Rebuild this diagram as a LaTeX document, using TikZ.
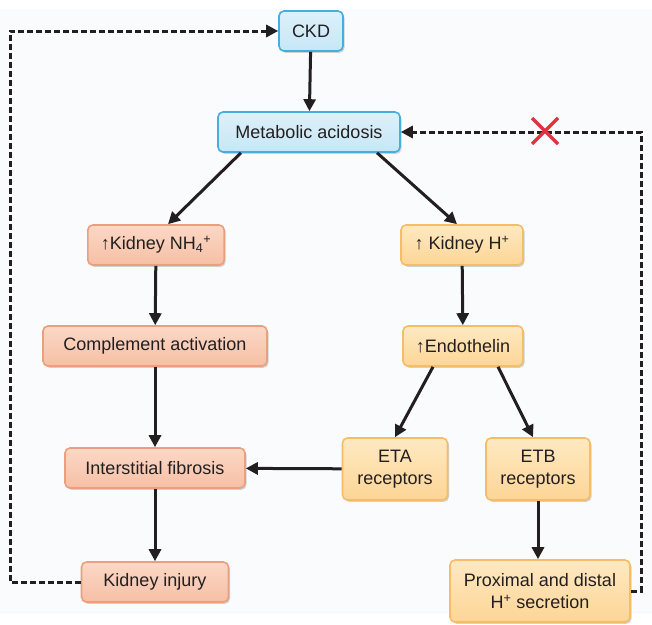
\documentclass[tikz,border=0pt]{standalone}
\usepackage{fontspec}
\setmainfont{Liberation Sans}
\usepackage{xcolor}
\usepackage{tikz}
\usetikzlibrary{arrows.meta, shadows, calc}

\definecolor{bluefill}{HTML}{C6E7F6}
\definecolor{bluetop}{HTML}{DDF1FA}
\definecolor{blueline}{HTML}{45AEDD}
\definecolor{salmtop}{HTML}{FBD8C6}
\definecolor{salmfill}{HTML}{F6BFA4}
\definecolor{salmline}{HTML}{EC9F7E}
\definecolor{orgtop}{HTML}{FEE9C2}
\definecolor{orgfill}{HTML}{FDD596}
\definecolor{orgline}{HTML}{F7BC66}
\definecolor{inkc}{HTML}{231F20}
\definecolor{crossred}{HTML}{E0323F}
\definecolor{bgpaper}{HTML}{FAFBFC}

\tikzset{
  box/.style={rounded corners=5pt, line width=1.6pt, inner xsep=13pt, minimum height=40pt,
    align=center, text=inkc, font=\fontsize{18}{22}\selectfont,
    drop shadow={shadow xshift=1.5pt, shadow yshift=-1.8pt, opacity=0.35}},
  bluebox/.style={box, draw=blueline, top color=bluetop, bottom color=bluefill},
  salmbox/.style={box, draw=salmline, top color=salmtop, bottom color=salmfill},
  orgbox/.style={box, draw=orgline, top color=orgtop, bottom color=orgfill},
  flow/.style={-{Triangle[length=12pt,width=12pt]}, line width=3pt, draw=inkc},
  fb/.style={line width=3pt, draw=inkc, dash pattern=on 6pt off 3pt},
  fbarrow/.style={fb, -{Triangle[length=12pt,width=12pt]}}
}

\begin{document}
\begin{tikzpicture}[x=1pt,y=-1pt]
  \useasboundingbox (0,0) rectangle (652,624);
  \fill[bgpaper] (0,9) rectangle (652,614);
  \node[bluebox] (ckd) at (311,31) {CKD};
  \node[bluebox, minimum width=182pt] (meta) at (309,132) {Metabolic acidosis};
  \node[salmbox, minimum width=135pt] (nh) at (156,245) {↑Kidney NH\textsubscript{4}\textsuperscript{+}};
  \node[orgbox, minimum width=122pt] (hplus) at (462,245) {↑ Kidney H\textsuperscript{+}};
  \node[salmbox, minimum width=224pt] (compl) at (155,346) {Complement activation};
  \node[orgbox, minimum width=120pt] (endo) at (463,346) {↑Endothelin};
  \node[orgbox, minimum width=105pt, minimum height=62pt] (eta) at (395,469) {ETA\\receptors};
  \node[orgbox, minimum width=104pt, minimum height=62pt] (etb) at (538,469) {ETB\\receptors};
  \node[salmbox, minimum width=180pt] (fib) at (155,468) {Interstitial fibrosis};
  \node[salmbox, minimum width=147pt] (inj) at (155,582) {Kidney injury};
  \node[orgbox, minimum width=180pt, minimum height=62pt] (prox) at (540,591) {Proximal and distal\\H\textsuperscript{+} secretion};

  \draw[flow] (ckd) -- (meta);
  \draw[flow] (meta.-163) -- ([xshift=12pt]nh.north);
  \draw[flow] (meta.-17) -- ([xshift=-5pt]hplus.north);
  \draw[flow] (nh) -- (compl);
  \draw[flow] (compl) -- (fib);
  \draw[flow] (fib) -- (inj);
  \draw[flow] (hplus) -- (endo);
  \draw[flow] ([xshift=-30pt]endo.south) -- (eta.north);
  \draw[flow] ([xshift=35pt]endo.south) -- ([xshift=-5pt]etb.north);
  \draw[flow] (eta) -- (fib);
  \draw[flow] (etb) -- ([xshift=-2pt]prox.north);

  \coordinate (lbot) at (10,582);
  \coordinate (ltop) at (10,31);
  \coordinate (rbot) at (641,591);
  \coordinate (rtop) at (641,132);
  \coordinate (block) at (545,131);
  \draw[fbarrow] (inj.west) -- (lbot) -- (ltop) -- (ckd.west);
  \draw[fbarrow] (prox.east) -- (rbot) -- (rtop) -- (meta.east);
  \draw[crossred, line width=3.5pt] ($(block)+(-13,-13)$) -- ($(block)+(13,13)$) ($(block)+(-13,13)$) -- ($(block)+(13,-13)$);
\end{tikzpicture}
\end{document}
